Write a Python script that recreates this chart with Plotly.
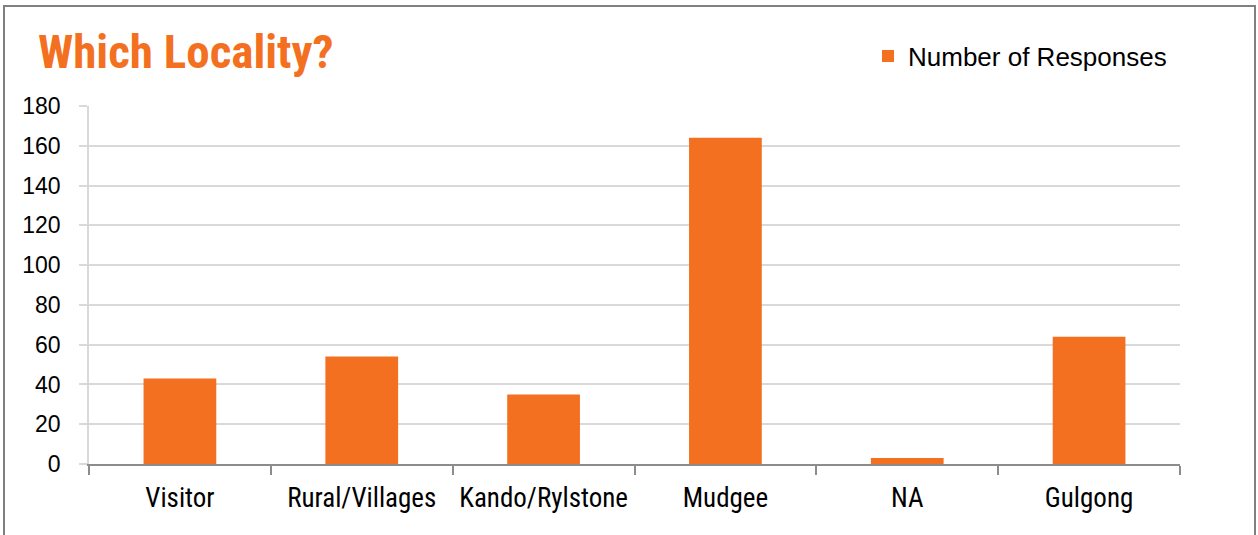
import plotly.graph_objects as go

# Survey: which locality respondents come from
localities = ["Visitor", "Rural/Villages", "Kando/Rylstone", "Mudgee", "NA", "Gulgong"]
responses = [43, 54, 35, 164, 3, 64]
y_ticks = [0, 20, 40, 60, 80, 100, 120, 140, 160, 180]

ORANGE = "#F37021"
GRID = "#D9D9D9"
AXIS = "#8C8C8C"
BORDER = "#808080"
NARROW = "Roboto Condensed, DejaVu Sans Condensed, Liberation Sans, sans-serif"

W, H = 1258, 535
ML, MR, MT, MB = 89, 78, 106, 71

fig = go.Figure(
    go.Bar(
        x=localities,
        y=responses,
        name="Number of Responses",
        marker=dict(color=ORANGE, line=dict(width=0)),
    )
)

plot_w = W - ML - MR
plot_h = H - MT - MB


def px_x(p):
    return (p - ML) / plot_w


def px_y(p):
    return (H - MB - p) / plot_h


fig.update_layout(
    width=W,
    height=H,
    margin=dict(l=ML, r=MR, t=MT, b=MB, pad=0),
    paper_bgcolor="white",
    plot_bgcolor="white",
    bargap=0.6,
    font=dict(family="Liberation Sans, Arial, sans-serif", color="#000000"),
    title=dict(
        text="<b>Which Locality?</b>",
        font=dict(family=NARROW, size=47, color=ORANGE),
        xref="container", yref="container",
        x=38 / W, xanchor="left",
        y=1 - 52 / H, yanchor="middle",
    ),
    showlegend=True,
    legend=dict(
        x=px_x(868), xanchor="left",
        y=px_y(56), yanchor="middle",
        font=dict(size=26, color="#000000"),
        bgcolor="rgba(0,0,0,0)",
        itemwidth=30,
    ),
    xaxis=dict(
        type="category",
        showgrid=False,
        showline=True, linecolor=AXIS, linewidth=2,
        ticks="outside", tickson="boundaries", ticklen=9, tickwidth=2, tickcolor=AXIS,
        tickfont=dict(family=NARROW, size=27, color="#000000"),
        tickangle=0,
        automargin=False,
        ticklabelstandoff=9,
        fixedrange=True,
    ),
    yaxis=dict(
        range=[0, 180],
        tickvals=y_ticks,
        showgrid=True, gridcolor=GRID, gridwidth=1.5,
        showline=True, linecolor=GRID, linewidth=1.5,
        ticks="outside", ticklen=8, tickwidth=1.5, tickcolor=GRID,
        tickfont=dict(size=23, color="#000000"),
        ticklabelstandoff=14,
        automargin=False,
        zeroline=False,
        fixedrange=True,
    ),
    shapes=[
        dict(
            type="rect", xref="paper", yref="paper",
            x0=px_x(4), x1=px_x(1255), y0=px_y(545), y1=px_y(6),
            line=dict(color=BORDER, width=2), fillcolor="rgba(0,0,0,0)",
            layer="below",
        )
    ],
)

fig.write_html("out.html")
